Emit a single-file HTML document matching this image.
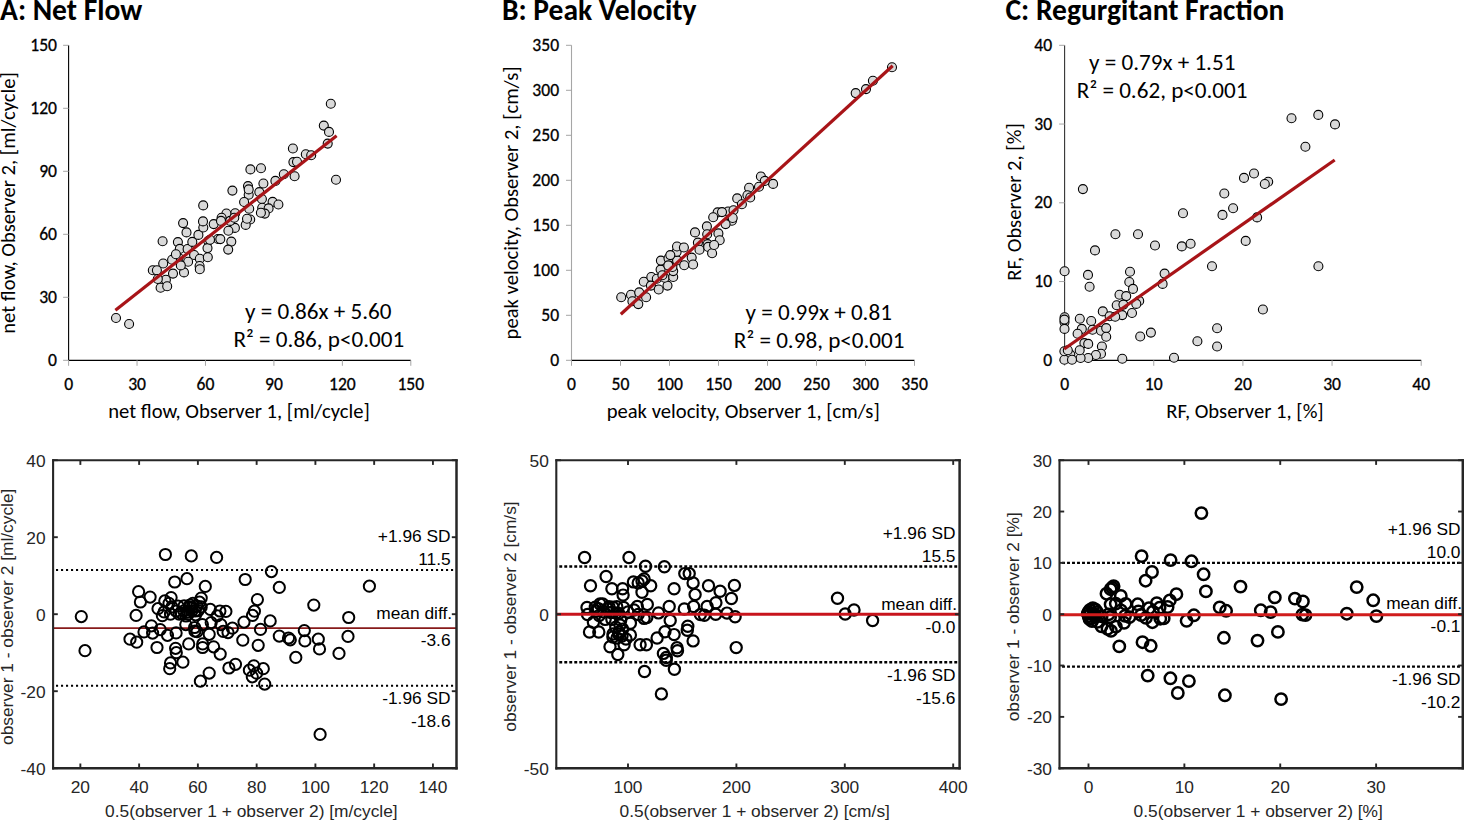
<!DOCTYPE html><html><head><meta charset="utf-8"><title>Inter-observer agreement</title>
<style>html,body{margin:0;padding:0;background:#fff;}svg{display:block;}.cal{font-family:"Carlito", "Liberation Sans", sans-serif;font-size-adjust:0.4775;} .cal text.tk{stroke:#000;stroke-width:0.3px;} .hel{font-family:"Liberation Sans", Arial, sans-serif;}</style></head><body>
<svg width="1464" height="821" viewBox="0 0 1464 821">
<rect width="1464" height="821" fill="#fff"/>
<g class="cal">
<text x="0" y="20" font-size="29.5" font-weight="bold" fill="#000" style="font-size-adjust:0.485" textLength="142.23" lengthAdjust="spacingAndGlyphs">A: Net Flow</text>
<line x1="68.6" y1="45.3" x2="68.6" y2="360.3" stroke="#000" stroke-width="1.1"/>
<line x1="68.6" y1="360.3" x2="410.8" y2="360.3" stroke="#000" stroke-width="1.2"/>
<line x1="68.6" y1="360.3" x2="68.6" y2="365.8" stroke="#a6a6a6" stroke-width="1"/>
<text x="68.6" y="389.8" class="tk" font-size="17.6" text-anchor="middle" fill="#000" textLength="8.92" lengthAdjust="spacingAndGlyphs">0</text>
<line x1="63.1" y1="360.3" x2="68.6" y2="360.3" stroke="#a6a6a6" stroke-width="1"/>
<text x="57" y="365.9" class="tk" font-size="17.6" text-anchor="end" fill="#000" textLength="8.92" lengthAdjust="spacingAndGlyphs">0</text>
<line x1="137.04" y1="360.3" x2="137.04" y2="365.8" stroke="#a6a6a6" stroke-width="1"/>
<text x="137.04" y="389.8" class="tk" font-size="17.6" text-anchor="middle" fill="#000" textLength="17.83" lengthAdjust="spacingAndGlyphs">30</text>
<line x1="63.1" y1="297.3" x2="68.6" y2="297.3" stroke="#a6a6a6" stroke-width="1"/>
<text x="57" y="302.9" class="tk" font-size="17.6" text-anchor="end" fill="#000" textLength="17.83" lengthAdjust="spacingAndGlyphs">30</text>
<line x1="205.48" y1="360.3" x2="205.48" y2="365.8" stroke="#a6a6a6" stroke-width="1"/>
<text x="205.48" y="389.8" class="tk" font-size="17.6" text-anchor="middle" fill="#000" textLength="17.83" lengthAdjust="spacingAndGlyphs">60</text>
<line x1="63.1" y1="234.3" x2="68.6" y2="234.3" stroke="#a6a6a6" stroke-width="1"/>
<text x="57" y="239.9" class="tk" font-size="17.6" text-anchor="end" fill="#000" textLength="17.83" lengthAdjust="spacingAndGlyphs">60</text>
<line x1="273.92" y1="360.3" x2="273.92" y2="365.8" stroke="#a6a6a6" stroke-width="1"/>
<text x="273.92" y="389.8" class="tk" font-size="17.6" text-anchor="middle" fill="#000" textLength="17.83" lengthAdjust="spacingAndGlyphs">90</text>
<line x1="63.1" y1="171.3" x2="68.6" y2="171.3" stroke="#a6a6a6" stroke-width="1"/>
<text x="57" y="176.9" class="tk" font-size="17.6" text-anchor="end" fill="#000" textLength="17.83" lengthAdjust="spacingAndGlyphs">90</text>
<line x1="342.36" y1="360.3" x2="342.36" y2="365.8" stroke="#a6a6a6" stroke-width="1"/>
<text x="342.36" y="389.8" class="tk" font-size="17.6" text-anchor="middle" fill="#000" textLength="26.73" lengthAdjust="spacingAndGlyphs">120</text>
<line x1="63.1" y1="108.3" x2="68.6" y2="108.3" stroke="#a6a6a6" stroke-width="1"/>
<text x="57" y="113.9" class="tk" font-size="17.6" text-anchor="end" fill="#000" textLength="26.73" lengthAdjust="spacingAndGlyphs">120</text>
<line x1="410.8" y1="360.3" x2="410.8" y2="365.8" stroke="#a6a6a6" stroke-width="1"/>
<text x="410.8" y="389.8" class="tk" font-size="17.6" text-anchor="middle" fill="#000" textLength="26.73" lengthAdjust="spacingAndGlyphs">150</text>
<line x1="63.1" y1="45.3" x2="68.6" y2="45.3" stroke="#a6a6a6" stroke-width="1"/>
<text x="57" y="50.9" class="tk" font-size="17.6" text-anchor="end" fill="#000" textLength="26.73" lengthAdjust="spacingAndGlyphs">150</text>
<text x="239" y="418.4" font-size="20.65" text-anchor="middle" fill="#000" textLength="261.61" lengthAdjust="spacingAndGlyphs">net flow, Observer 1, [ml/cycle]</text>
<text transform="translate(15 203) rotate(-90)" font-size="20.65" text-anchor="middle" fill="#000" textLength="261.61" lengthAdjust="spacingAndGlyphs">net flow, Observer 2, [ml/cycle]</text>
<circle cx="162.6" cy="241.2" r="4.5" fill="#d9d9d9" stroke="#000" stroke-width="1.1"/>
<circle cx="183.1" cy="223.1" r="4.5" fill="#d9d9d9" stroke="#000" stroke-width="1.1"/>
<circle cx="186.5" cy="232.4" r="4.5" fill="#d9d9d9" stroke="#000" stroke-width="1.1"/>
<circle cx="177.9" cy="242.1" r="4.5" fill="#d9d9d9" stroke="#000" stroke-width="1.1"/>
<circle cx="179.8" cy="248.9" r="4.5" fill="#d9d9d9" stroke="#000" stroke-width="1.1"/>
<circle cx="187.6" cy="249" r="4.5" fill="#d9d9d9" stroke="#000" stroke-width="1.1"/>
<circle cx="192.3" cy="241.9" r="4.5" fill="#d9d9d9" stroke="#000" stroke-width="1.1"/>
<circle cx="198.4" cy="234.9" r="4.5" fill="#d9d9d9" stroke="#000" stroke-width="1.1"/>
<circle cx="203.3" cy="227.5" r="4.5" fill="#d9d9d9" stroke="#000" stroke-width="1.1"/>
<circle cx="203" cy="221.4" r="4.5" fill="#d9d9d9" stroke="#000" stroke-width="1.1"/>
<circle cx="213.7" cy="224.1" r="4.5" fill="#d9d9d9" stroke="#000" stroke-width="1.1"/>
<circle cx="218" cy="239" r="4.5" fill="#d9d9d9" stroke="#000" stroke-width="1.1"/>
<circle cx="208.2" cy="241" r="4.5" fill="#d9d9d9" stroke="#000" stroke-width="1.1"/>
<circle cx="207.5" cy="248.1" r="4.5" fill="#d9d9d9" stroke="#000" stroke-width="1.1"/>
<circle cx="194.1" cy="255" r="4.5" fill="#d9d9d9" stroke="#000" stroke-width="1.1"/>
<circle cx="178.6" cy="257.8" r="4.5" fill="#d9d9d9" stroke="#000" stroke-width="1.1"/>
<circle cx="172.1" cy="259.8" r="4.5" fill="#d9d9d9" stroke="#000" stroke-width="1.1"/>
<circle cx="163.2" cy="263.5" r="4.5" fill="#d9d9d9" stroke="#000" stroke-width="1.1"/>
<circle cx="152.8" cy="270.2" r="4.5" fill="#d9d9d9" stroke="#000" stroke-width="1.1"/>
<circle cx="156.9" cy="270.2" r="4.5" fill="#d9d9d9" stroke="#000" stroke-width="1.1"/>
<circle cx="173" cy="273.6" r="4.5" fill="#d9d9d9" stroke="#000" stroke-width="1.1"/>
<circle cx="184" cy="272.4" r="4.5" fill="#d9d9d9" stroke="#000" stroke-width="1.1"/>
<circle cx="188.1" cy="261.8" r="4.5" fill="#d9d9d9" stroke="#000" stroke-width="1.1"/>
<circle cx="180.8" cy="265.4" r="4.5" fill="#d9d9d9" stroke="#000" stroke-width="1.1"/>
<circle cx="199.8" cy="258.8" r="4.5" fill="#d9d9d9" stroke="#000" stroke-width="1.1"/>
<circle cx="199.6" cy="266" r="4.5" fill="#d9d9d9" stroke="#000" stroke-width="1.1"/>
<circle cx="199.8" cy="269.2" r="4.5" fill="#d9d9d9" stroke="#000" stroke-width="1.1"/>
<circle cx="207.8" cy="257.3" r="4.5" fill="#d9d9d9" stroke="#000" stroke-width="1.1"/>
<circle cx="165.9" cy="279.7" r="4.5" fill="#d9d9d9" stroke="#000" stroke-width="1.1"/>
<circle cx="160.6" cy="287.8" r="4.5" fill="#d9d9d9" stroke="#000" stroke-width="1.1"/>
<circle cx="167.2" cy="286.3" r="4.5" fill="#d9d9d9" stroke="#000" stroke-width="1.1"/>
<circle cx="175.9" cy="254.3" r="4.5" fill="#d9d9d9" stroke="#000" stroke-width="1.1"/>
<circle cx="232.4" cy="190.6" r="4.5" fill="#d9d9d9" stroke="#000" stroke-width="1.1"/>
<circle cx="248" cy="186.1" r="4.5" fill="#d9d9d9" stroke="#000" stroke-width="1.1"/>
<circle cx="248.7" cy="194.8" r="4.5" fill="#d9d9d9" stroke="#000" stroke-width="1.1"/>
<circle cx="248.7" cy="189.4" r="4.5" fill="#d9d9d9" stroke="#000" stroke-width="1.1"/>
<circle cx="263.4" cy="183.5" r="4.5" fill="#d9d9d9" stroke="#000" stroke-width="1.1"/>
<circle cx="259.3" cy="192.1" r="4.5" fill="#d9d9d9" stroke="#000" stroke-width="1.1"/>
<circle cx="261.9" cy="199" r="4.5" fill="#d9d9d9" stroke="#000" stroke-width="1.1"/>
<circle cx="244.1" cy="202" r="4.5" fill="#d9d9d9" stroke="#000" stroke-width="1.1"/>
<circle cx="249.2" cy="208.8" r="4.5" fill="#d9d9d9" stroke="#000" stroke-width="1.1"/>
<circle cx="272.6" cy="201.9" r="4.5" fill="#d9d9d9" stroke="#000" stroke-width="1.1"/>
<circle cx="278.4" cy="204.5" r="4.5" fill="#d9d9d9" stroke="#000" stroke-width="1.1"/>
<circle cx="262.2" cy="207.7" r="4.5" fill="#d9d9d9" stroke="#000" stroke-width="1.1"/>
<circle cx="268.6" cy="208.4" r="4.5" fill="#d9d9d9" stroke="#000" stroke-width="1.1"/>
<circle cx="264.8" cy="213.6" r="4.5" fill="#d9d9d9" stroke="#000" stroke-width="1.1"/>
<circle cx="260.9" cy="212.7" r="4.5" fill="#d9d9d9" stroke="#000" stroke-width="1.1"/>
<circle cx="250.2" cy="219.5" r="4.5" fill="#d9d9d9" stroke="#000" stroke-width="1.1"/>
<circle cx="245.7" cy="224.9" r="4.5" fill="#d9d9d9" stroke="#000" stroke-width="1.1"/>
<circle cx="235.2" cy="213.2" r="4.5" fill="#d9d9d9" stroke="#000" stroke-width="1.1"/>
<circle cx="234.9" cy="227.9" r="4.5" fill="#d9d9d9" stroke="#000" stroke-width="1.1"/>
<circle cx="228.4" cy="230.8" r="4.5" fill="#d9d9d9" stroke="#000" stroke-width="1.1"/>
<circle cx="226.4" cy="213.5" r="4.5" fill="#d9d9d9" stroke="#000" stroke-width="1.1"/>
<circle cx="221.6" cy="217.7" r="4.5" fill="#d9d9d9" stroke="#000" stroke-width="1.1"/>
<circle cx="221" cy="220.9" r="4.5" fill="#d9d9d9" stroke="#000" stroke-width="1.1"/>
<circle cx="203.2" cy="205.4" r="4.5" fill="#d9d9d9" stroke="#000" stroke-width="1.1"/>
<circle cx="220.3" cy="239.1" r="4.5" fill="#d9d9d9" stroke="#000" stroke-width="1.1"/>
<circle cx="231.3" cy="241.6" r="4.5" fill="#d9d9d9" stroke="#000" stroke-width="1.1"/>
<circle cx="228.2" cy="249.6" r="4.5" fill="#d9d9d9" stroke="#000" stroke-width="1.1"/>
<circle cx="230.2" cy="220.9" r="4.5" fill="#d9d9d9" stroke="#000" stroke-width="1.1"/>
<circle cx="323.8" cy="125.6" r="4.5" fill="#d9d9d9" stroke="#000" stroke-width="1.1"/>
<circle cx="329" cy="131.9" r="4.5" fill="#d9d9d9" stroke="#000" stroke-width="1.1"/>
<circle cx="327.7" cy="143.6" r="4.5" fill="#d9d9d9" stroke="#000" stroke-width="1.1"/>
<circle cx="292.9" cy="148.5" r="4.5" fill="#d9d9d9" stroke="#000" stroke-width="1.1"/>
<circle cx="305.8" cy="154.3" r="4.5" fill="#d9d9d9" stroke="#000" stroke-width="1.1"/>
<circle cx="311.2" cy="155.3" r="4.5" fill="#d9d9d9" stroke="#000" stroke-width="1.1"/>
<circle cx="293.4" cy="162.1" r="4.5" fill="#d9d9d9" stroke="#000" stroke-width="1.1"/>
<circle cx="297" cy="161.7" r="4.5" fill="#d9d9d9" stroke="#000" stroke-width="1.1"/>
<circle cx="283.8" cy="174.2" r="4.5" fill="#d9d9d9" stroke="#000" stroke-width="1.1"/>
<circle cx="294.6" cy="176.3" r="4.5" fill="#d9d9d9" stroke="#000" stroke-width="1.1"/>
<circle cx="275.4" cy="180.9" r="4.5" fill="#d9d9d9" stroke="#000" stroke-width="1.1"/>
<circle cx="261" cy="168.2" r="4.5" fill="#d9d9d9" stroke="#000" stroke-width="1.1"/>
<circle cx="336" cy="179.7" r="4.5" fill="#d9d9d9" stroke="#000" stroke-width="1.1"/>
<circle cx="330.8" cy="103.8" r="4.5" fill="#d9d9d9" stroke="#000" stroke-width="1.1"/>
<circle cx="116" cy="318" r="4.5" fill="#d9d9d9" stroke="#000" stroke-width="1.1"/>
<circle cx="129.1" cy="324" r="4.5" fill="#d9d9d9" stroke="#000" stroke-width="1.1"/>
<circle cx="157.8" cy="279" r="4.5" fill="#d9d9d9" stroke="#000" stroke-width="1.1"/>
<circle cx="234.3" cy="217.8" r="4.5" fill="#d9d9d9" stroke="#000" stroke-width="1.1"/>
<circle cx="210" cy="239.7" r="4.5" fill="#d9d9d9" stroke="#000" stroke-width="1.1"/>
<circle cx="247" cy="218.8" r="4.5" fill="#d9d9d9" stroke="#000" stroke-width="1.1"/>
<circle cx="250.4" cy="169.4" r="4.5" fill="#d9d9d9" stroke="#000" stroke-width="1.1"/>
<line x1="115.4" y1="310.3" x2="336.6" y2="135.7" stroke="#a81418" stroke-width="3.2"/>
<text x="318.3" y="318.9" font-size="23.15" text-anchor="middle" fill="#000" textLength="146.44" lengthAdjust="spacingAndGlyphs">y = 0.86x + 5.60</text>
<text x="318.9" y="346.9" font-size="23.15" text-anchor="middle" fill="#000" textLength="170.69" lengthAdjust="spacingAndGlyphs">R² = 0.86, p&lt;0.001</text>
</g>
<g class="cal">
<text x="502" y="20" font-size="29.5" font-weight="bold" fill="#000" style="font-size-adjust:0.485" textLength="194.50" lengthAdjust="spacingAndGlyphs">B: Peak Velocity</text>
<line x1="571.5" y1="45.3" x2="571.5" y2="360.3" stroke="#a6a6a6" stroke-width="1.1"/>
<line x1="571.5" y1="360.3" x2="914.5" y2="360.3" stroke="#000" stroke-width="1.2"/>
<line x1="571.5" y1="360.3" x2="571.5" y2="365.8" stroke="#a6a6a6" stroke-width="1"/>
<text x="571.5" y="389.8" class="tk" font-size="17.6" text-anchor="middle" fill="#000" textLength="8.92" lengthAdjust="spacingAndGlyphs">0</text>
<line x1="566" y1="360.3" x2="571.5" y2="360.3" stroke="#a6a6a6" stroke-width="1"/>
<text x="559.1" y="365.9" class="tk" font-size="17.6" text-anchor="end" fill="#000" textLength="8.92" lengthAdjust="spacingAndGlyphs">0</text>
<line x1="620.5" y1="360.3" x2="620.5" y2="365.8" stroke="#a6a6a6" stroke-width="1"/>
<text x="620.5" y="389.8" class="tk" font-size="17.6" text-anchor="middle" fill="#000" textLength="17.83" lengthAdjust="spacingAndGlyphs">50</text>
<line x1="566" y1="315.3" x2="571.5" y2="315.3" stroke="#a6a6a6" stroke-width="1"/>
<text x="559.1" y="320.9" class="tk" font-size="17.6" text-anchor="end" fill="#000" textLength="17.83" lengthAdjust="spacingAndGlyphs">50</text>
<line x1="669.5" y1="360.3" x2="669.5" y2="365.8" stroke="#a6a6a6" stroke-width="1"/>
<text x="669.5" y="389.8" class="tk" font-size="17.6" text-anchor="middle" fill="#000" textLength="26.73" lengthAdjust="spacingAndGlyphs">100</text>
<line x1="566" y1="270.3" x2="571.5" y2="270.3" stroke="#a6a6a6" stroke-width="1"/>
<text x="559.1" y="275.9" class="tk" font-size="17.6" text-anchor="end" fill="#000" textLength="26.73" lengthAdjust="spacingAndGlyphs">100</text>
<line x1="718.5" y1="360.3" x2="718.5" y2="365.8" stroke="#a6a6a6" stroke-width="1"/>
<text x="718.5" y="389.8" class="tk" font-size="17.6" text-anchor="middle" fill="#000" textLength="26.73" lengthAdjust="spacingAndGlyphs">150</text>
<line x1="566" y1="225.3" x2="571.5" y2="225.3" stroke="#a6a6a6" stroke-width="1"/>
<text x="559.1" y="230.9" class="tk" font-size="17.6" text-anchor="end" fill="#000" textLength="26.73" lengthAdjust="spacingAndGlyphs">150</text>
<line x1="767.5" y1="360.3" x2="767.5" y2="365.8" stroke="#a6a6a6" stroke-width="1"/>
<text x="767.5" y="389.8" class="tk" font-size="17.6" text-anchor="middle" fill="#000" textLength="26.73" lengthAdjust="spacingAndGlyphs">200</text>
<line x1="566" y1="180.3" x2="571.5" y2="180.3" stroke="#a6a6a6" stroke-width="1"/>
<text x="559.1" y="185.9" class="tk" font-size="17.6" text-anchor="end" fill="#000" textLength="26.73" lengthAdjust="spacingAndGlyphs">200</text>
<line x1="816.5" y1="360.3" x2="816.5" y2="365.8" stroke="#a6a6a6" stroke-width="1"/>
<text x="816.5" y="389.8" class="tk" font-size="17.6" text-anchor="middle" fill="#000" textLength="26.73" lengthAdjust="spacingAndGlyphs">250</text>
<line x1="566" y1="135.3" x2="571.5" y2="135.3" stroke="#a6a6a6" stroke-width="1"/>
<text x="559.1" y="140.9" class="tk" font-size="17.6" text-anchor="end" fill="#000" textLength="26.73" lengthAdjust="spacingAndGlyphs">250</text>
<line x1="865.5" y1="360.3" x2="865.5" y2="365.8" stroke="#a6a6a6" stroke-width="1"/>
<text x="865.5" y="389.8" class="tk" font-size="17.6" text-anchor="middle" fill="#000" textLength="26.73" lengthAdjust="spacingAndGlyphs">300</text>
<line x1="566" y1="90.3" x2="571.5" y2="90.3" stroke="#a6a6a6" stroke-width="1"/>
<text x="559.1" y="95.9" class="tk" font-size="17.6" text-anchor="end" fill="#000" textLength="26.73" lengthAdjust="spacingAndGlyphs">300</text>
<line x1="914.5" y1="360.3" x2="914.5" y2="365.8" stroke="#a6a6a6" stroke-width="1"/>
<text x="914.5" y="389.8" class="tk" font-size="17.6" text-anchor="middle" fill="#000" textLength="26.73" lengthAdjust="spacingAndGlyphs">350</text>
<line x1="566" y1="45.3" x2="571.5" y2="45.3" stroke="#a6a6a6" stroke-width="1"/>
<text x="559.1" y="50.9" class="tk" font-size="17.6" text-anchor="end" fill="#000" textLength="26.73" lengthAdjust="spacingAndGlyphs">350</text>
<text x="743.2" y="418.4" font-size="20.65" text-anchor="middle" fill="#000" textLength="273.12" lengthAdjust="spacingAndGlyphs">peak velocity, Observer 1, [cm/s]</text>
<text transform="translate(517.5 202.9) rotate(-90)" font-size="20.65" text-anchor="middle" fill="#000" textLength="273.12" lengthAdjust="spacingAndGlyphs">peak velocity, Observer 2, [cm/s]</text>
<circle cx="621.2" cy="297.3" r="4.5" fill="#d9d9d9" stroke="#000" stroke-width="1.1"/>
<circle cx="631" cy="294.8" r="4.5" fill="#d9d9d9" stroke="#000" stroke-width="1.1"/>
<circle cx="632.4" cy="301.2" r="4.5" fill="#d9d9d9" stroke="#000" stroke-width="1.1"/>
<circle cx="638.3" cy="304.1" r="4.5" fill="#d9d9d9" stroke="#000" stroke-width="1.1"/>
<circle cx="639.2" cy="292.4" r="4.5" fill="#d9d9d9" stroke="#000" stroke-width="1.1"/>
<circle cx="646.1" cy="297.3" r="4.5" fill="#d9d9d9" stroke="#000" stroke-width="1.1"/>
<circle cx="643.8" cy="281.8" r="4.5" fill="#d9d9d9" stroke="#000" stroke-width="1.1"/>
<circle cx="651.3" cy="277" r="4.5" fill="#d9d9d9" stroke="#000" stroke-width="1.1"/>
<circle cx="656.8" cy="278.7" r="4.5" fill="#d9d9d9" stroke="#000" stroke-width="1.1"/>
<circle cx="650.9" cy="285.6" r="4.5" fill="#d9d9d9" stroke="#000" stroke-width="1.1"/>
<circle cx="658.7" cy="289.5" r="4.5" fill="#d9d9d9" stroke="#000" stroke-width="1.1"/>
<circle cx="667.5" cy="285.6" r="4.5" fill="#d9d9d9" stroke="#000" stroke-width="1.1"/>
<circle cx="664.6" cy="277.8" r="4.5" fill="#d9d9d9" stroke="#000" stroke-width="1.1"/>
<circle cx="673.2" cy="277" r="4.5" fill="#d9d9d9" stroke="#000" stroke-width="1.1"/>
<circle cx="660.6" cy="269.6" r="4.5" fill="#d9d9d9" stroke="#000" stroke-width="1.1"/>
<circle cx="660.9" cy="260.6" r="4.5" fill="#d9d9d9" stroke="#000" stroke-width="1.1"/>
<circle cx="668.5" cy="258.3" r="4.5" fill="#d9d9d9" stroke="#000" stroke-width="1.1"/>
<circle cx="673.2" cy="271.1" r="4.5" fill="#d9d9d9" stroke="#000" stroke-width="1.1"/>
<circle cx="672.4" cy="267" r="4.5" fill="#d9d9d9" stroke="#000" stroke-width="1.1"/>
<circle cx="677.1" cy="260.4" r="4.5" fill="#d9d9d9" stroke="#000" stroke-width="1.1"/>
<circle cx="676.6" cy="251.9" r="4.5" fill="#d9d9d9" stroke="#000" stroke-width="1.1"/>
<circle cx="677" cy="246.5" r="4.5" fill="#d9d9d9" stroke="#000" stroke-width="1.1"/>
<circle cx="683.9" cy="247.5" r="4.5" fill="#d9d9d9" stroke="#000" stroke-width="1.1"/>
<circle cx="684.2" cy="265.2" r="4.5" fill="#d9d9d9" stroke="#000" stroke-width="1.1"/>
<circle cx="670.3" cy="255.1" r="4.5" fill="#d9d9d9" stroke="#000" stroke-width="1.1"/>
<circle cx="749.1" cy="187.7" r="4.5" fill="#d9d9d9" stroke="#000" stroke-width="1.1"/>
<circle cx="747.4" cy="195.2" r="4.5" fill="#d9d9d9" stroke="#000" stroke-width="1.1"/>
<circle cx="737.2" cy="198.4" r="4.5" fill="#d9d9d9" stroke="#000" stroke-width="1.1"/>
<circle cx="717.6" cy="212.4" r="4.5" fill="#d9d9d9" stroke="#000" stroke-width="1.1"/>
<circle cx="728.1" cy="211.5" r="4.5" fill="#d9d9d9" stroke="#000" stroke-width="1.1"/>
<circle cx="733.5" cy="210.3" r="4.5" fill="#d9d9d9" stroke="#000" stroke-width="1.1"/>
<circle cx="713.2" cy="217.2" r="4.5" fill="#d9d9d9" stroke="#000" stroke-width="1.1"/>
<circle cx="731.9" cy="220.7" r="4.5" fill="#d9d9d9" stroke="#000" stroke-width="1.1"/>
<circle cx="725.6" cy="224.1" r="4.5" fill="#d9d9d9" stroke="#000" stroke-width="1.1"/>
<circle cx="706.9" cy="226.4" r="4.5" fill="#d9d9d9" stroke="#000" stroke-width="1.1"/>
<circle cx="695" cy="232.4" r="4.5" fill="#d9d9d9" stroke="#000" stroke-width="1.1"/>
<circle cx="707.2" cy="234.2" r="4.5" fill="#d9d9d9" stroke="#000" stroke-width="1.1"/>
<circle cx="718.4" cy="233.4" r="4.5" fill="#d9d9d9" stroke="#000" stroke-width="1.1"/>
<circle cx="719.7" cy="240.2" r="4.5" fill="#d9d9d9" stroke="#000" stroke-width="1.1"/>
<circle cx="697.9" cy="242.6" r="4.5" fill="#d9d9d9" stroke="#000" stroke-width="1.1"/>
<circle cx="707.6" cy="244.1" r="4.5" fill="#d9d9d9" stroke="#000" stroke-width="1.1"/>
<circle cx="760.9" cy="176.5" r="4.5" fill="#d9d9d9" stroke="#000" stroke-width="1.1"/>
<circle cx="773.1" cy="183.9" r="4.5" fill="#d9d9d9" stroke="#000" stroke-width="1.1"/>
<circle cx="764.8" cy="180.9" r="4.5" fill="#d9d9d9" stroke="#000" stroke-width="1.1"/>
<circle cx="759" cy="186.8" r="4.5" fill="#d9d9d9" stroke="#000" stroke-width="1.1"/>
<circle cx="750.2" cy="197.5" r="4.5" fill="#d9d9d9" stroke="#000" stroke-width="1.1"/>
<circle cx="741.9" cy="204.3" r="4.5" fill="#d9d9d9" stroke="#000" stroke-width="1.1"/>
<circle cx="722" cy="212.1" r="4.5" fill="#d9d9d9" stroke="#000" stroke-width="1.1"/>
<circle cx="732.7" cy="218" r="4.5" fill="#d9d9d9" stroke="#000" stroke-width="1.1"/>
<circle cx="892" cy="67.2" r="4.5" fill="#d9d9d9" stroke="#000" stroke-width="1.1"/>
<circle cx="872.9" cy="80.7" r="4.5" fill="#d9d9d9" stroke="#000" stroke-width="1.1"/>
<circle cx="866" cy="89.1" r="4.5" fill="#d9d9d9" stroke="#000" stroke-width="1.1"/>
<circle cx="855.7" cy="93.1" r="4.5" fill="#d9d9d9" stroke="#000" stroke-width="1.1"/>
<circle cx="699.5" cy="249.8" r="4.5" fill="#d9d9d9" stroke="#000" stroke-width="1.1"/>
<circle cx="708.2" cy="246.9" r="4.5" fill="#d9d9d9" stroke="#000" stroke-width="1.1"/>
<circle cx="712.1" cy="253.2" r="4.5" fill="#d9d9d9" stroke="#000" stroke-width="1.1"/>
<circle cx="714.1" cy="245" r="4.5" fill="#d9d9d9" stroke="#000" stroke-width="1.1"/>
<circle cx="691.7" cy="257.6" r="4.5" fill="#d9d9d9" stroke="#000" stroke-width="1.1"/>
<circle cx="693.1" cy="264.5" r="4.5" fill="#d9d9d9" stroke="#000" stroke-width="1.1"/>
<circle cx="668.3" cy="265.4" r="4.5" fill="#d9d9d9" stroke="#000" stroke-width="1.1"/>
<circle cx="662.4" cy="275.2" r="4.5" fill="#d9d9d9" stroke="#000" stroke-width="1.1"/>
<line x1="620.8" y1="314.2" x2="892.7" y2="65.7" stroke="#a81418" stroke-width="3.2"/>
<text x="818.7" y="320.3" font-size="23.15" text-anchor="middle" fill="#000" textLength="146.44" lengthAdjust="spacingAndGlyphs">y = 0.99x + 0.81</text>
<text x="819.2" y="348.3" font-size="23.15" text-anchor="middle" fill="#000" textLength="170.69" lengthAdjust="spacingAndGlyphs">R² = 0.98, p&lt;0.001</text>
</g>
<g class="cal">
<text x="1005.5" y="20" font-size="29.5" font-weight="bold" fill="#000" style="font-size-adjust:0.485" textLength="278.84" lengthAdjust="spacingAndGlyphs">C: Regurgitant Fraction</text>
<line x1="1064.6" y1="45.3" x2="1064.6" y2="360.3" stroke="#333" stroke-width="1.1"/>
<line x1="1064.6" y1="360.3" x2="1421.2" y2="360.3" stroke="#000" stroke-width="1.2"/>
<line x1="1064.6" y1="360.3" x2="1064.6" y2="365.8" stroke="#a6a6a6" stroke-width="1"/>
<text x="1064.6" y="389.8" class="tk" font-size="17.6" text-anchor="middle" fill="#000" textLength="8.92" lengthAdjust="spacingAndGlyphs">0</text>
<line x1="1059.1" y1="360.3" x2="1064.6" y2="360.3" stroke="#a6a6a6" stroke-width="1"/>
<text x="1052.2" y="365.9" class="tk" font-size="17.6" text-anchor="end" fill="#000" textLength="8.92" lengthAdjust="spacingAndGlyphs">0</text>
<line x1="1153.75" y1="360.3" x2="1153.75" y2="365.8" stroke="#a6a6a6" stroke-width="1"/>
<text x="1153.75" y="389.8" class="tk" font-size="17.6" text-anchor="middle" fill="#000" textLength="17.83" lengthAdjust="spacingAndGlyphs">10</text>
<line x1="1059.1" y1="281.55" x2="1064.6" y2="281.55" stroke="#a6a6a6" stroke-width="1"/>
<text x="1052.2" y="287.15" class="tk" font-size="17.6" text-anchor="end" fill="#000" textLength="17.83" lengthAdjust="spacingAndGlyphs">10</text>
<line x1="1242.9" y1="360.3" x2="1242.9" y2="365.8" stroke="#a6a6a6" stroke-width="1"/>
<text x="1242.9" y="389.8" class="tk" font-size="17.6" text-anchor="middle" fill="#000" textLength="17.83" lengthAdjust="spacingAndGlyphs">20</text>
<line x1="1059.1" y1="202.8" x2="1064.6" y2="202.8" stroke="#a6a6a6" stroke-width="1"/>
<text x="1052.2" y="208.4" class="tk" font-size="17.6" text-anchor="end" fill="#000" textLength="17.83" lengthAdjust="spacingAndGlyphs">20</text>
<line x1="1332.05" y1="360.3" x2="1332.05" y2="365.8" stroke="#a6a6a6" stroke-width="1"/>
<text x="1332.05" y="389.8" class="tk" font-size="17.6" text-anchor="middle" fill="#000" textLength="17.83" lengthAdjust="spacingAndGlyphs">30</text>
<line x1="1059.1" y1="124.05" x2="1064.6" y2="124.05" stroke="#a6a6a6" stroke-width="1"/>
<text x="1052.2" y="129.65" class="tk" font-size="17.6" text-anchor="end" fill="#000" textLength="17.83" lengthAdjust="spacingAndGlyphs">30</text>
<line x1="1421.2" y1="360.3" x2="1421.2" y2="365.8" stroke="#a6a6a6" stroke-width="1"/>
<text x="1421.2" y="389.8" class="tk" font-size="17.6" text-anchor="middle" fill="#000" textLength="17.83" lengthAdjust="spacingAndGlyphs">40</text>
<line x1="1059.1" y1="45.3" x2="1064.6" y2="45.3" stroke="#a6a6a6" stroke-width="1"/>
<text x="1052.2" y="50.9" class="tk" font-size="17.6" text-anchor="end" fill="#000" textLength="17.83" lengthAdjust="spacingAndGlyphs">40</text>
<text x="1245" y="418.4" font-size="20.65" text-anchor="middle" fill="#000" textLength="157.42" lengthAdjust="spacingAndGlyphs">RF, Observer 1, [%]</text>
<text transform="translate(1021 202) rotate(-90)" font-size="20.65" text-anchor="middle" fill="#000" textLength="157.42" lengthAdjust="spacingAndGlyphs">RF, Observer 2, [%]</text>
<circle cx="1095" cy="250.4" r="4.5" fill="#d9d9d9" stroke="#000" stroke-width="1.1"/>
<circle cx="1064.6" cy="271.2" r="4.5" fill="#d9d9d9" stroke="#000" stroke-width="1.1"/>
<circle cx="1088" cy="274.9" r="4.5" fill="#d9d9d9" stroke="#000" stroke-width="1.1"/>
<circle cx="1089.6" cy="286.8" r="4.5" fill="#d9d9d9" stroke="#000" stroke-width="1.1"/>
<circle cx="1130" cy="271.8" r="4.5" fill="#d9d9d9" stroke="#000" stroke-width="1.1"/>
<circle cx="1129.3" cy="282" r="4.5" fill="#d9d9d9" stroke="#000" stroke-width="1.1"/>
<circle cx="1133" cy="288.9" r="4.5" fill="#d9d9d9" stroke="#000" stroke-width="1.1"/>
<circle cx="1119.5" cy="294.7" r="4.5" fill="#d9d9d9" stroke="#000" stroke-width="1.1"/>
<circle cx="1126.2" cy="296.1" r="4.5" fill="#d9d9d9" stroke="#000" stroke-width="1.1"/>
<circle cx="1116.7" cy="305.3" r="4.5" fill="#d9d9d9" stroke="#000" stroke-width="1.1"/>
<circle cx="1123.4" cy="304.6" r="4.5" fill="#d9d9d9" stroke="#000" stroke-width="1.1"/>
<circle cx="1102.8" cy="311.4" r="4.5" fill="#d9d9d9" stroke="#000" stroke-width="1.1"/>
<circle cx="1109.6" cy="316.3" r="4.5" fill="#d9d9d9" stroke="#000" stroke-width="1.1"/>
<circle cx="1122.2" cy="315.1" r="4.5" fill="#d9d9d9" stroke="#000" stroke-width="1.1"/>
<circle cx="1132" cy="313" r="4.5" fill="#d9d9d9" stroke="#000" stroke-width="1.1"/>
<circle cx="1079.8" cy="318.8" r="4.5" fill="#d9d9d9" stroke="#000" stroke-width="1.1"/>
<circle cx="1091.2" cy="321" r="4.5" fill="#d9d9d9" stroke="#000" stroke-width="1.1"/>
<circle cx="1064.6" cy="317.3" r="4.5" fill="#d9d9d9" stroke="#000" stroke-width="1.1"/>
<circle cx="1064.5" cy="322.1" r="4.5" fill="#d9d9d9" stroke="#000" stroke-width="1.1"/>
<circle cx="1064.5" cy="328.9" r="4.5" fill="#d9d9d9" stroke="#000" stroke-width="1.1"/>
<circle cx="1081.8" cy="328.9" r="4.5" fill="#d9d9d9" stroke="#000" stroke-width="1.1"/>
<circle cx="1064.4" cy="319.6" r="4.5" fill="#d9d9d9" stroke="#000" stroke-width="1.1"/>
<circle cx="1115.2" cy="316.8" r="4.5" fill="#d9d9d9" stroke="#000" stroke-width="1.1"/>
<circle cx="1077.6" cy="333.7" r="4.5" fill="#d9d9d9" stroke="#000" stroke-width="1.1"/>
<circle cx="1092.5" cy="329.8" r="4.5" fill="#d9d9d9" stroke="#000" stroke-width="1.1"/>
<circle cx="1101" cy="330.7" r="4.5" fill="#d9d9d9" stroke="#000" stroke-width="1.1"/>
<circle cx="1106.2" cy="328.1" r="4.5" fill="#d9d9d9" stroke="#000" stroke-width="1.1"/>
<circle cx="1106.2" cy="336.7" r="4.5" fill="#d9d9d9" stroke="#000" stroke-width="1.1"/>
<circle cx="1084.4" cy="343.1" r="4.5" fill="#d9d9d9" stroke="#000" stroke-width="1.1"/>
<circle cx="1088.2" cy="343.9" r="4.5" fill="#d9d9d9" stroke="#000" stroke-width="1.1"/>
<circle cx="1101.9" cy="346.5" r="4.5" fill="#d9d9d9" stroke="#000" stroke-width="1.1"/>
<circle cx="1101" cy="353.7" r="4.5" fill="#d9d9d9" stroke="#000" stroke-width="1.1"/>
<circle cx="1095.9" cy="355" r="4.5" fill="#d9d9d9" stroke="#000" stroke-width="1.1"/>
<circle cx="1088.2" cy="358" r="4.5" fill="#d9d9d9" stroke="#000" stroke-width="1.1"/>
<circle cx="1080.6" cy="358" r="4.5" fill="#d9d9d9" stroke="#000" stroke-width="1.1"/>
<circle cx="1079.7" cy="350.3" r="4.5" fill="#d9d9d9" stroke="#000" stroke-width="1.1"/>
<circle cx="1070.3" cy="354.6" r="4.5" fill="#d9d9d9" stroke="#000" stroke-width="1.1"/>
<circle cx="1064.4" cy="359.7" r="4.5" fill="#d9d9d9" stroke="#000" stroke-width="1.1"/>
<circle cx="1064.4" cy="351.2" r="4.5" fill="#d9d9d9" stroke="#000" stroke-width="1.1"/>
<circle cx="1072" cy="359.7" r="4.5" fill="#d9d9d9" stroke="#000" stroke-width="1.1"/>
<circle cx="1067.8" cy="350.3" r="4.5" fill="#d9d9d9" stroke="#000" stroke-width="1.1"/>
<circle cx="1122.3" cy="358.8" r="4.5" fill="#d9d9d9" stroke="#000" stroke-width="1.1"/>
<circle cx="1139.2" cy="300.9" r="4.5" fill="#d9d9d9" stroke="#000" stroke-width="1.1"/>
<circle cx="1136.3" cy="303.9" r="4.5" fill="#d9d9d9" stroke="#000" stroke-width="1.1"/>
<circle cx="1164.6" cy="273.6" r="4.5" fill="#d9d9d9" stroke="#000" stroke-width="1.1"/>
<circle cx="1162.6" cy="283.9" r="4.5" fill="#d9d9d9" stroke="#000" stroke-width="1.1"/>
<circle cx="1150.9" cy="332.6" r="4.5" fill="#d9d9d9" stroke="#000" stroke-width="1.1"/>
<circle cx="1140.2" cy="336.5" r="4.5" fill="#d9d9d9" stroke="#000" stroke-width="1.1"/>
<circle cx="1082.9" cy="189.1" r="4.5" fill="#d9d9d9" stroke="#000" stroke-width="1.1"/>
<circle cx="1115.4" cy="234.2" r="4.5" fill="#d9d9d9" stroke="#000" stroke-width="1.1"/>
<circle cx="1138" cy="234.2" r="4.5" fill="#d9d9d9" stroke="#000" stroke-width="1.1"/>
<circle cx="1155" cy="245.5" r="4.5" fill="#d9d9d9" stroke="#000" stroke-width="1.1"/>
<circle cx="1291.5" cy="118.3" r="4.5" fill="#d9d9d9" stroke="#000" stroke-width="1.1"/>
<circle cx="1318.3" cy="114.9" r="4.5" fill="#d9d9d9" stroke="#000" stroke-width="1.1"/>
<circle cx="1335" cy="124.4" r="4.5" fill="#d9d9d9" stroke="#000" stroke-width="1.1"/>
<circle cx="1305.4" cy="146.8" r="4.5" fill="#d9d9d9" stroke="#000" stroke-width="1.1"/>
<circle cx="1254" cy="173.5" r="4.5" fill="#d9d9d9" stroke="#000" stroke-width="1.1"/>
<circle cx="1244" cy="177.9" r="4.5" fill="#d9d9d9" stroke="#000" stroke-width="1.1"/>
<circle cx="1268.2" cy="181.8" r="4.5" fill="#d9d9d9" stroke="#000" stroke-width="1.1"/>
<circle cx="1264.8" cy="184" r="4.5" fill="#d9d9d9" stroke="#000" stroke-width="1.1"/>
<circle cx="1224.3" cy="193.5" r="4.5" fill="#d9d9d9" stroke="#000" stroke-width="1.1"/>
<circle cx="1233.1" cy="208.2" r="4.5" fill="#d9d9d9" stroke="#000" stroke-width="1.1"/>
<circle cx="1183" cy="213.3" r="4.5" fill="#d9d9d9" stroke="#000" stroke-width="1.1"/>
<circle cx="1222.5" cy="214.9" r="4.5" fill="#d9d9d9" stroke="#000" stroke-width="1.1"/>
<circle cx="1257.1" cy="217.4" r="4.5" fill="#d9d9d9" stroke="#000" stroke-width="1.1"/>
<circle cx="1245.7" cy="240.9" r="4.5" fill="#d9d9d9" stroke="#000" stroke-width="1.1"/>
<circle cx="1181.8" cy="246.4" r="4.5" fill="#d9d9d9" stroke="#000" stroke-width="1.1"/>
<circle cx="1190.6" cy="243.8" r="4.5" fill="#d9d9d9" stroke="#000" stroke-width="1.1"/>
<circle cx="1212" cy="266.3" r="4.5" fill="#d9d9d9" stroke="#000" stroke-width="1.1"/>
<circle cx="1318.4" cy="266.3" r="4.5" fill="#d9d9d9" stroke="#000" stroke-width="1.1"/>
<circle cx="1262.9" cy="309.5" r="4.5" fill="#d9d9d9" stroke="#000" stroke-width="1.1"/>
<circle cx="1217.1" cy="328.2" r="4.5" fill="#d9d9d9" stroke="#000" stroke-width="1.1"/>
<circle cx="1197.4" cy="341.3" r="4.5" fill="#d9d9d9" stroke="#000" stroke-width="1.1"/>
<circle cx="1217.1" cy="346.5" r="4.5" fill="#d9d9d9" stroke="#000" stroke-width="1.1"/>
<circle cx="1174" cy="357.8" r="4.5" fill="#d9d9d9" stroke="#000" stroke-width="1.1"/>
<line x1="1064.2" y1="349" x2="1334.7" y2="160" stroke="#a81418" stroke-width="3.2"/>
<text x="1162.2" y="70.3" font-size="23.15" text-anchor="middle" fill="#000" textLength="146.44" lengthAdjust="spacingAndGlyphs">y = 0.79x + 1.51</text>
<text x="1162.2" y="98.3" font-size="23.15" text-anchor="middle" fill="#000" textLength="170.69" lengthAdjust="spacingAndGlyphs">R² = 0.62, p&lt;0.001</text>
</g>
<g class="hel">
<line x1="53.1" y1="569.93" x2="456.5" y2="569.93" stroke="#000" stroke-width="2.1" stroke-dasharray="2.1 2.9" stroke-dashoffset="2.1"/>
<line x1="53.1" y1="685.81" x2="456.5" y2="685.81" stroke="#000" stroke-width="2.1" stroke-dasharray="2.1 2.9" stroke-dashoffset="2.1"/>
<line x1="53.1" y1="628.06" x2="456.5" y2="628.06" stroke="#871a1a" stroke-width="1.8"/>
<circle cx="165.4" cy="554.5" r="5.6" fill="none" stroke="#000" stroke-width="2.0"/>
<circle cx="191.3" cy="555.9" r="5.6" fill="none" stroke="#000" stroke-width="2.0"/>
<circle cx="187" cy="578.7" r="5.6" fill="none" stroke="#000" stroke-width="2.0"/>
<circle cx="174.7" cy="582" r="5.6" fill="none" stroke="#000" stroke-width="2.0"/>
<circle cx="171.1" cy="597.6" r="5.6" fill="none" stroke="#000" stroke-width="2.0"/>
<circle cx="176.1" cy="611" r="5.6" fill="none" stroke="#000" stroke-width="2.0"/>
<circle cx="184.1" cy="605.9" r="5.6" fill="none" stroke="#000" stroke-width="2.0"/>
<circle cx="192.9" cy="603.4" r="5.6" fill="none" stroke="#000" stroke-width="2.0"/>
<circle cx="201.2" cy="598.1" r="5.6" fill="none" stroke="#000" stroke-width="2.0"/>
<circle cx="205.3" cy="586.4" r="5.6" fill="none" stroke="#000" stroke-width="2.0"/>
<circle cx="210.3" cy="609.4" r="5.6" fill="none" stroke="#000" stroke-width="2.0"/>
<circle cx="202.7" cy="643.9" r="5.6" fill="none" stroke="#000" stroke-width="2.0"/>
<circle cx="194.9" cy="631.1" r="5.6" fill="none" stroke="#000" stroke-width="2.0"/>
<circle cx="188.7" cy="643.9" r="5.6" fill="none" stroke="#000" stroke-width="2.0"/>
<circle cx="176.1" cy="632.9" r="5.6" fill="none" stroke="#000" stroke-width="2.0"/>
<circle cx="164.1" cy="611.9" r="5.6" fill="none" stroke="#000" stroke-width="2.0"/>
<circle cx="158" cy="608.7" r="5.6" fill="none" stroke="#000" stroke-width="2.0"/>
<circle cx="150.1" cy="597.1" r="5.6" fill="none" stroke="#000" stroke-width="2.0"/>
<circle cx="138.6" cy="591.7" r="5.6" fill="none" stroke="#000" stroke-width="2.0"/>
<circle cx="140.4" cy="602" r="5.6" fill="none" stroke="#000" stroke-width="2.0"/>
<circle cx="152.6" cy="633.1" r="5.6" fill="none" stroke="#000" stroke-width="2.0"/>
<circle cx="157" cy="647.5" r="5.6" fill="none" stroke="#000" stroke-width="2.0"/>
<circle cx="167.5" cy="635.3" r="5.6" fill="none" stroke="#000" stroke-width="2.0"/>
<circle cx="160.2" cy="629.6" r="5.6" fill="none" stroke="#000" stroke-width="2.0"/>
<circle cx="175.6" cy="648.3" r="5.6" fill="none" stroke="#000" stroke-width="2.0"/>
<circle cx="170.5" cy="662.9" r="5.6" fill="none" stroke="#000" stroke-width="2.0"/>
<circle cx="169.7" cy="668.7" r="5.6" fill="none" stroke="#000" stroke-width="2.0"/>
<circle cx="182.9" cy="662.2" r="5.6" fill="none" stroke="#000" stroke-width="2.0"/>
<circle cx="144" cy="631.9" r="5.6" fill="none" stroke="#000" stroke-width="2.0"/>
<circle cx="130" cy="639.2" r="5.6" fill="none" stroke="#000" stroke-width="2.0"/>
<circle cx="136.7" cy="642.2" r="5.6" fill="none" stroke="#000" stroke-width="2.0"/>
<circle cx="164.8" cy="600.9" r="5.6" fill="none" stroke="#000" stroke-width="2.0"/>
<circle cx="245.2" cy="579.5" r="5.6" fill="none" stroke="#000" stroke-width="2.0"/>
<circle cx="257.4" cy="599.6" r="5.6" fill="none" stroke="#000" stroke-width="2.0"/>
<circle cx="252.5" cy="615.4" r="5.6" fill="none" stroke="#000" stroke-width="2.0"/>
<circle cx="270.2" cy="620.9" r="5.6" fill="none" stroke="#000" stroke-width="2.0"/>
<circle cx="260.5" cy="629.4" r="5.6" fill="none" stroke="#000" stroke-width="2.0"/>
<circle cx="258.2" cy="645.3" r="5.6" fill="none" stroke="#000" stroke-width="2.0"/>
<circle cx="244" cy="622.1" r="5.6" fill="none" stroke="#000" stroke-width="2.0"/>
<circle cx="242.8" cy="640.2" r="5.6" fill="none" stroke="#000" stroke-width="2.0"/>
<circle cx="263.3" cy="668.7" r="5.6" fill="none" stroke="#000" stroke-width="2.0"/>
<circle cx="264.7" cy="684.1" r="5.6" fill="none" stroke="#000" stroke-width="2.0"/>
<circle cx="253.8" cy="665.8" r="5.6" fill="none" stroke="#000" stroke-width="2.0"/>
<circle cx="256.6" cy="673.2" r="5.6" fill="none" stroke="#000" stroke-width="2.0"/>
<circle cx="252.3" cy="676.8" r="5.6" fill="none" stroke="#000" stroke-width="2.0"/>
<circle cx="249.4" cy="670.2" r="5.6" fill="none" stroke="#000" stroke-width="2.0"/>
<circle cx="235.5" cy="664.3" r="5.6" fill="none" stroke="#000" stroke-width="2.0"/>
<circle cx="228.9" cy="668" r="5.6" fill="none" stroke="#000" stroke-width="2.0"/>
<circle cx="232.4" cy="628.2" r="5.6" fill="none" stroke="#000" stroke-width="2.0"/>
<circle cx="220.2" cy="654.1" r="5.6" fill="none" stroke="#000" stroke-width="2.0"/>
<circle cx="213.6" cy="646.8" r="5.6" fill="none" stroke="#000" stroke-width="2.0"/>
<circle cx="225.9" cy="611.4" r="5.6" fill="none" stroke="#000" stroke-width="2.0"/>
<circle cx="219.9" cy="611" r="5.6" fill="none" stroke="#000" stroke-width="2.0"/>
<circle cx="217.2" cy="615.8" r="5.6" fill="none" stroke="#000" stroke-width="2.0"/>
<circle cx="216.6" cy="557.4" r="5.6" fill="none" stroke="#000" stroke-width="2.0"/>
<circle cx="202.6" cy="647.5" r="5.6" fill="none" stroke="#000" stroke-width="2.0"/>
<circle cx="209.2" cy="673.1" r="5.6" fill="none" stroke="#000" stroke-width="2.0"/>
<circle cx="200.4" cy="681.2" r="5.6" fill="none" stroke="#000" stroke-width="2.0"/>
<circle cx="223.2" cy="631.4" r="5.6" fill="none" stroke="#000" stroke-width="2.0"/>
<circle cx="348.7" cy="617.5" r="5.6" fill="none" stroke="#000" stroke-width="2.0"/>
<circle cx="348" cy="636.4" r="5.6" fill="none" stroke="#000" stroke-width="2.0"/>
<circle cx="339" cy="653.4" r="5.6" fill="none" stroke="#000" stroke-width="2.0"/>
<circle cx="313.8" cy="605.1" r="5.6" fill="none" stroke="#000" stroke-width="2.0"/>
<circle cx="318.3" cy="639.2" r="5.6" fill="none" stroke="#000" stroke-width="2.0"/>
<circle cx="319.5" cy="648.9" r="5.6" fill="none" stroke="#000" stroke-width="2.0"/>
<circle cx="304.3" cy="630.6" r="5.6" fill="none" stroke="#000" stroke-width="2.0"/>
<circle cx="304.9" cy="640.9" r="5.6" fill="none" stroke="#000" stroke-width="2.0"/>
<circle cx="288.5" cy="638" r="5.6" fill="none" stroke="#000" stroke-width="2.0"/>
<circle cx="295.8" cy="657.4" r="5.6" fill="none" stroke="#000" stroke-width="2.0"/>
<circle cx="279.3" cy="636.1" r="5.6" fill="none" stroke="#000" stroke-width="2.0"/>
<circle cx="279.3" cy="587.4" r="5.6" fill="none" stroke="#000" stroke-width="2.0"/>
<circle cx="320.1" cy="734.4" r="5.6" fill="none" stroke="#000" stroke-width="2.0"/>
<circle cx="369.4" cy="586.2" r="5.6" fill="none" stroke="#000" stroke-width="2.0"/>
<circle cx="81.3" cy="616.6" r="5.6" fill="none" stroke="#000" stroke-width="2.0"/>
<circle cx="85" cy="650.7" r="5.6" fill="none" stroke="#000" stroke-width="2.0"/>
<circle cx="136.1" cy="615.4" r="5.6" fill="none" stroke="#000" stroke-width="2.0"/>
<circle cx="228" cy="632.6" r="5.6" fill="none" stroke="#000" stroke-width="2.0"/>
<circle cx="197" cy="631.7" r="5.6" fill="none" stroke="#000" stroke-width="2.0"/>
<circle cx="271.4" cy="571.6" r="5.6" fill="none" stroke="#000" stroke-width="2.0"/>
<circle cx="254.4" cy="611.2" r="5.6" fill="none" stroke="#000" stroke-width="2.0"/>
<circle cx="209.2" cy="634.3" r="5.6" fill="none" stroke="#000" stroke-width="2.0"/>
<circle cx="199.5" cy="602.2" r="5.6" fill="none" stroke="#000" stroke-width="2.0"/>
<circle cx="191.7" cy="610.9" r="5.6" fill="none" stroke="#000" stroke-width="2.0"/>
<circle cx="195.6" cy="614.8" r="5.6" fill="none" stroke="#000" stroke-width="2.0"/>
<circle cx="189.7" cy="607" r="5.6" fill="none" stroke="#000" stroke-width="2.0"/>
<circle cx="183.9" cy="610.9" r="5.6" fill="none" stroke="#000" stroke-width="2.0"/>
<circle cx="185.8" cy="624.6" r="5.6" fill="none" stroke="#000" stroke-width="2.0"/>
<circle cx="194.6" cy="627.5" r="5.6" fill="none" stroke="#000" stroke-width="2.0"/>
<circle cx="202.4" cy="624.6" r="5.6" fill="none" stroke="#000" stroke-width="2.0"/>
<circle cx="211.2" cy="622.6" r="5.6" fill="none" stroke="#000" stroke-width="2.0"/>
<circle cx="220.9" cy="624.6" r="5.6" fill="none" stroke="#000" stroke-width="2.0"/>
<circle cx="162.4" cy="615.7" r="5.6" fill="none" stroke="#000" stroke-width="2.0"/>
<circle cx="169" cy="603.3" r="5.6" fill="none" stroke="#000" stroke-width="2.0"/>
<circle cx="171.9" cy="606.9" r="5.6" fill="none" stroke="#000" stroke-width="2.0"/>
<circle cx="170.5" cy="614.2" r="5.6" fill="none" stroke="#000" stroke-width="2.0"/>
<circle cx="179.2" cy="614.2" r="5.6" fill="none" stroke="#000" stroke-width="2.0"/>
<circle cx="198.2" cy="610.6" r="5.6" fill="none" stroke="#000" stroke-width="2.0"/>
<circle cx="201.2" cy="606.9" r="5.6" fill="none" stroke="#000" stroke-width="2.0"/>
<circle cx="188" cy="614.2" r="5.6" fill="none" stroke="#000" stroke-width="2.0"/>
<circle cx="188" cy="612" r="5.6" fill="none" stroke="#000" stroke-width="2.0"/>
<circle cx="192" cy="608" r="5.6" fill="none" stroke="#000" stroke-width="2.0"/>
<circle cx="186" cy="616" r="5.6" fill="none" stroke="#000" stroke-width="2.0"/>
<circle cx="190" cy="605" r="5.6" fill="none" stroke="#000" stroke-width="2.0"/>
<circle cx="195" cy="611" r="5.6" fill="none" stroke="#000" stroke-width="2.0"/>
<circle cx="181" cy="613" r="5.6" fill="none" stroke="#000" stroke-width="2.0"/>
<circle cx="197" cy="606" r="5.6" fill="none" stroke="#000" stroke-width="2.0"/>
<circle cx="178" cy="606" r="5.6" fill="none" stroke="#000" stroke-width="2.0"/>
<circle cx="290.3" cy="639.8" r="5.6" fill="none" stroke="#000" stroke-width="2.0"/>
<circle cx="151.4" cy="625.8" r="5.6" fill="none" stroke="#000" stroke-width="2.0"/>
<circle cx="176.3" cy="652.7" r="5.6" fill="none" stroke="#000" stroke-width="2.0"/>
<line x1="52.1" y1="460.2" x2="457.7" y2="460.2" stroke="#262626" stroke-width="1.9"/>
<line x1="53.1" y1="459.3" x2="53.1" y2="769.4" stroke="#262626" stroke-width="2.1"/>
<line x1="456.5" y1="459.3" x2="456.5" y2="769.4" stroke="#262626" stroke-width="2.5"/>
<line x1="52.1" y1="768.2" x2="457.7" y2="768.2" stroke="#262626" stroke-width="2.5"/>
<line x1="80.36" y1="768.2" x2="80.36" y2="763.5" stroke="#262626" stroke-width="1.9"/>
<line x1="80.36" y1="460.2" x2="80.36" y2="464.9" stroke="#262626" stroke-width="1.9"/>
<text x="80.36" y="792.5" font-size="17.35" text-anchor="middle" fill="#262626">20</text>
<line x1="139.12" y1="768.2" x2="139.12" y2="763.5" stroke="#262626" stroke-width="1.9"/>
<line x1="139.12" y1="460.2" x2="139.12" y2="464.9" stroke="#262626" stroke-width="1.9"/>
<text x="139.12" y="792.5" font-size="17.35" text-anchor="middle" fill="#262626">40</text>
<line x1="197.88" y1="768.2" x2="197.88" y2="763.5" stroke="#262626" stroke-width="1.9"/>
<line x1="197.88" y1="460.2" x2="197.88" y2="464.9" stroke="#262626" stroke-width="1.9"/>
<text x="197.88" y="792.5" font-size="17.35" text-anchor="middle" fill="#262626">60</text>
<line x1="256.64" y1="768.2" x2="256.64" y2="763.5" stroke="#262626" stroke-width="1.9"/>
<line x1="256.64" y1="460.2" x2="256.64" y2="464.9" stroke="#262626" stroke-width="1.9"/>
<text x="256.64" y="792.5" font-size="17.35" text-anchor="middle" fill="#262626">80</text>
<line x1="315.4" y1="768.2" x2="315.4" y2="763.5" stroke="#262626" stroke-width="1.9"/>
<line x1="315.4" y1="460.2" x2="315.4" y2="464.9" stroke="#262626" stroke-width="1.9"/>
<text x="315.4" y="792.5" font-size="17.35" text-anchor="middle" fill="#262626">100</text>
<line x1="374.16" y1="768.2" x2="374.16" y2="763.5" stroke="#262626" stroke-width="1.9"/>
<line x1="374.16" y1="460.2" x2="374.16" y2="464.9" stroke="#262626" stroke-width="1.9"/>
<text x="374.16" y="792.5" font-size="17.35" text-anchor="middle" fill="#262626">120</text>
<line x1="432.92" y1="768.2" x2="432.92" y2="763.5" stroke="#262626" stroke-width="1.9"/>
<line x1="432.92" y1="460.2" x2="432.92" y2="464.9" stroke="#262626" stroke-width="1.9"/>
<text x="432.92" y="792.5" font-size="17.35" text-anchor="middle" fill="#262626">140</text>
<line x1="53.1" y1="460.2" x2="57.8" y2="460.2" stroke="#262626" stroke-width="1.9"/>
<line x1="456.5" y1="460.2" x2="451.8" y2="460.2" stroke="#262626" stroke-width="1.9"/>
<text x="45.6" y="466.7" font-size="17.35" text-anchor="end" fill="#262626">40</text>
<line x1="53.1" y1="537.2" x2="57.8" y2="537.2" stroke="#262626" stroke-width="1.9"/>
<line x1="456.5" y1="537.2" x2="451.8" y2="537.2" stroke="#262626" stroke-width="1.9"/>
<text x="45.6" y="543.7" font-size="17.35" text-anchor="end" fill="#262626">20</text>
<line x1="53.1" y1="614.2" x2="57.8" y2="614.2" stroke="#262626" stroke-width="1.9"/>
<line x1="456.5" y1="614.2" x2="451.8" y2="614.2" stroke="#262626" stroke-width="1.9"/>
<text x="45.6" y="620.7" font-size="17.35" text-anchor="end" fill="#262626">0</text>
<line x1="53.1" y1="691.2" x2="57.8" y2="691.2" stroke="#262626" stroke-width="1.9"/>
<line x1="456.5" y1="691.2" x2="451.8" y2="691.2" stroke="#262626" stroke-width="1.9"/>
<text x="45.6" y="697.7" font-size="17.35" text-anchor="end" fill="#262626">-20</text>
<line x1="53.1" y1="768.2" x2="57.8" y2="768.2" stroke="#262626" stroke-width="1.9"/>
<line x1="456.5" y1="768.2" x2="451.8" y2="768.2" stroke="#262626" stroke-width="1.9"/>
<text x="45.6" y="774.7" font-size="17.35" text-anchor="end" fill="#262626">-40</text>
<text x="251.4" y="817.1" font-size="17.35" text-anchor="middle" fill="#262626">0.5(observer 1 + observer 2) [m/cycle]</text>
<text transform="translate(12.8 616.8) rotate(-90)" font-size="17.35" text-anchor="middle" fill="#262626">observer 1 - observer 2 [ml/cycle]</text>
<text x="450.6" y="541.8" font-size="17.35" text-anchor="end" fill="#000">+1.96 SD</text>
<text x="450.6" y="564.8" font-size="17.35" text-anchor="end" fill="#000">11.5</text>
<text x="452.1" y="619" font-size="17.35" text-anchor="end" fill="#000">mean diff.</text>
<text x="450.6" y="646" font-size="17.35" text-anchor="end" fill="#000">-3.6</text>
<text x="450.6" y="703.5" font-size="17.35" text-anchor="end" fill="#000">-1.96 SD</text>
<text x="450.6" y="727.4" font-size="17.35" text-anchor="end" fill="#000">-18.6</text>
</g>
<g class="hel">
<line x1="556.3" y1="566.46" x2="959.6" y2="566.46" stroke="#000" stroke-width="2.5" stroke-dasharray="2.9 2.1" stroke-dashoffset="2.0"/>
<line x1="556.3" y1="662.25" x2="959.6" y2="662.25" stroke="#000" stroke-width="2.5" stroke-dasharray="2.9 2.1" stroke-dashoffset="2.0"/>
<circle cx="584.6" cy="557.5" r="5.6" fill="none" stroke="#000" stroke-width="2.2"/>
<circle cx="629" cy="557.5" r="5.6" fill="none" stroke="#000" stroke-width="2.2"/>
<circle cx="645.5" cy="566.3" r="5.6" fill="none" stroke="#000" stroke-width="2.2"/>
<circle cx="606.1" cy="576.5" r="5.6" fill="none" stroke="#000" stroke-width="2.2"/>
<circle cx="590.5" cy="585.8" r="5.6" fill="none" stroke="#000" stroke-width="2.2"/>
<circle cx="611.9" cy="588.7" r="5.6" fill="none" stroke="#000" stroke-width="2.2"/>
<circle cx="622.6" cy="588.7" r="5.6" fill="none" stroke="#000" stroke-width="2.2"/>
<circle cx="623.1" cy="595.1" r="5.6" fill="none" stroke="#000" stroke-width="2.2"/>
<circle cx="633.4" cy="581.9" r="5.6" fill="none" stroke="#000" stroke-width="2.2"/>
<circle cx="638.2" cy="582.9" r="5.6" fill="none" stroke="#000" stroke-width="2.2"/>
<circle cx="644.1" cy="579" r="5.6" fill="none" stroke="#000" stroke-width="2.2"/>
<circle cx="642" cy="592.2" r="5.6" fill="none" stroke="#000" stroke-width="2.2"/>
<circle cx="587" cy="607.5" r="5.6" fill="none" stroke="#000" stroke-width="2.2"/>
<circle cx="595.3" cy="607.3" r="5.6" fill="none" stroke="#000" stroke-width="2.2"/>
<circle cx="602.7" cy="603.9" r="5.6" fill="none" stroke="#000" stroke-width="2.2"/>
<circle cx="612.9" cy="607.3" r="5.6" fill="none" stroke="#000" stroke-width="2.2"/>
<circle cx="623.6" cy="607.5" r="5.6" fill="none" stroke="#000" stroke-width="2.2"/>
<circle cx="637.3" cy="606.5" r="5.6" fill="none" stroke="#000" stroke-width="2.2"/>
<circle cx="647.3" cy="604.4" r="5.6" fill="none" stroke="#000" stroke-width="2.2"/>
<circle cx="589.5" cy="632" r="5.6" fill="none" stroke="#000" stroke-width="2.2"/>
<circle cx="598.8" cy="632" r="5.6" fill="none" stroke="#000" stroke-width="2.2"/>
<circle cx="593.4" cy="622.3" r="5.6" fill="none" stroke="#000" stroke-width="2.2"/>
<circle cx="610" cy="646.7" r="5.6" fill="none" stroke="#000" stroke-width="2.2"/>
<circle cx="617.8" cy="654.5" r="5.6" fill="none" stroke="#000" stroke-width="2.2"/>
<circle cx="624.1" cy="644.7" r="5.6" fill="none" stroke="#000" stroke-width="2.2"/>
<circle cx="630.4" cy="635" r="5.6" fill="none" stroke="#000" stroke-width="2.2"/>
<circle cx="612.9" cy="637" r="5.6" fill="none" stroke="#000" stroke-width="2.2"/>
<circle cx="618.7" cy="634" r="5.6" fill="none" stroke="#000" stroke-width="2.2"/>
<circle cx="622.6" cy="629.1" r="5.6" fill="none" stroke="#000" stroke-width="2.2"/>
<circle cx="615.8" cy="627.2" r="5.6" fill="none" stroke="#000" stroke-width="2.2"/>
<circle cx="630.4" cy="623.3" r="5.6" fill="none" stroke="#000" stroke-width="2.2"/>
<circle cx="640.1" cy="644.8" r="5.6" fill="none" stroke="#000" stroke-width="2.2"/>
<circle cx="646.4" cy="644.8" r="5.6" fill="none" stroke="#000" stroke-width="2.2"/>
<circle cx="644.5" cy="671.5" r="5.6" fill="none" stroke="#000" stroke-width="2.2"/>
<circle cx="587.5" cy="614.5" r="5.6" fill="none" stroke="#000" stroke-width="2.2"/>
<circle cx="598.3" cy="608.6" r="5.6" fill="none" stroke="#000" stroke-width="2.2"/>
<circle cx="609" cy="606.7" r="5.6" fill="none" stroke="#000" stroke-width="2.2"/>
<circle cx="616.8" cy="606.7" r="5.6" fill="none" stroke="#000" stroke-width="2.2"/>
<circle cx="605.1" cy="619.4" r="5.6" fill="none" stroke="#000" stroke-width="2.2"/>
<circle cx="611.9" cy="619.4" r="5.6" fill="none" stroke="#000" stroke-width="2.2"/>
<circle cx="620.7" cy="620.3" r="5.6" fill="none" stroke="#000" stroke-width="2.2"/>
<circle cx="644.1" cy="618.4" r="5.6" fill="none" stroke="#000" stroke-width="2.2"/>
<circle cx="638.2" cy="614.5" r="5.6" fill="none" stroke="#000" stroke-width="2.2"/>
<circle cx="611" cy="612.5" r="5.6" fill="none" stroke="#000" stroke-width="2.2"/>
<circle cx="618.7" cy="613.5" r="5.6" fill="none" stroke="#000" stroke-width="2.2"/>
<circle cx="599.2" cy="615.5" r="5.6" fill="none" stroke="#000" stroke-width="2.2"/>
<circle cx="664.4" cy="566.8" r="5.6" fill="none" stroke="#000" stroke-width="2.2"/>
<circle cx="684.8" cy="573.6" r="5.6" fill="none" stroke="#000" stroke-width="2.2"/>
<circle cx="689.2" cy="573.6" r="5.6" fill="none" stroke="#000" stroke-width="2.2"/>
<circle cx="693.1" cy="582.9" r="5.6" fill="none" stroke="#000" stroke-width="2.2"/>
<circle cx="708.5" cy="585.8" r="5.6" fill="none" stroke="#000" stroke-width="2.2"/>
<circle cx="720.1" cy="591.2" r="5.6" fill="none" stroke="#000" stroke-width="2.2"/>
<circle cx="674.1" cy="588.7" r="5.6" fill="none" stroke="#000" stroke-width="2.2"/>
<circle cx="695.1" cy="594.6" r="5.6" fill="none" stroke="#000" stroke-width="2.2"/>
<circle cx="650.7" cy="585.8" r="5.6" fill="none" stroke="#000" stroke-width="2.2"/>
<circle cx="642" cy="580.9" r="5.6" fill="none" stroke="#000" stroke-width="2.2"/>
<circle cx="669.2" cy="606.5" r="5.6" fill="none" stroke="#000" stroke-width="2.2"/>
<circle cx="684.3" cy="609" r="5.6" fill="none" stroke="#000" stroke-width="2.2"/>
<circle cx="693.6" cy="606.5" r="5.6" fill="none" stroke="#000" stroke-width="2.2"/>
<circle cx="707.1" cy="606.5" r="5.6" fill="none" stroke="#000" stroke-width="2.2"/>
<circle cx="715.9" cy="602.8" r="5.6" fill="none" stroke="#000" stroke-width="2.2"/>
<circle cx="658.5" cy="612.9" r="5.6" fill="none" stroke="#000" stroke-width="2.2"/>
<circle cx="657.1" cy="638" r="5.6" fill="none" stroke="#000" stroke-width="2.2"/>
<circle cx="664.9" cy="631.7" r="5.6" fill="none" stroke="#000" stroke-width="2.2"/>
<circle cx="674.1" cy="634.6" r="5.6" fill="none" stroke="#000" stroke-width="2.2"/>
<circle cx="670.2" cy="620.5" r="5.6" fill="none" stroke="#000" stroke-width="2.2"/>
<circle cx="677" cy="647.8" r="5.6" fill="none" stroke="#000" stroke-width="2.2"/>
<circle cx="663.4" cy="653.4" r="5.6" fill="none" stroke="#000" stroke-width="2.2"/>
<circle cx="666.3" cy="657.5" r="5.6" fill="none" stroke="#000" stroke-width="2.2"/>
<circle cx="674.4" cy="669.3" r="5.6" fill="none" stroke="#000" stroke-width="2.2"/>
<circle cx="687.8" cy="626.3" r="5.6" fill="none" stroke="#000" stroke-width="2.2"/>
<circle cx="687.3" cy="630.2" r="5.6" fill="none" stroke="#000" stroke-width="2.2"/>
<circle cx="693.1" cy="640.9" r="5.6" fill="none" stroke="#000" stroke-width="2.2"/>
<circle cx="646.8" cy="617.5" r="5.6" fill="none" stroke="#000" stroke-width="2.2"/>
<circle cx="700.4" cy="614.6" r="5.6" fill="none" stroke="#000" stroke-width="2.2"/>
<circle cx="715.7" cy="614.2" r="5.6" fill="none" stroke="#000" stroke-width="2.2"/>
<circle cx="734.4" cy="585.4" r="5.6" fill="none" stroke="#000" stroke-width="2.2"/>
<circle cx="731.4" cy="598.5" r="5.6" fill="none" stroke="#000" stroke-width="2.2"/>
<circle cx="727" cy="613.1" r="5.6" fill="none" stroke="#000" stroke-width="2.2"/>
<circle cx="735.1" cy="616.8" r="5.6" fill="none" stroke="#000" stroke-width="2.2"/>
<circle cx="704.4" cy="615.3" r="5.6" fill="none" stroke="#000" stroke-width="2.2"/>
<circle cx="837.5" cy="598.3" r="5.6" fill="none" stroke="#000" stroke-width="2.2"/>
<circle cx="845.2" cy="614" r="5.6" fill="none" stroke="#000" stroke-width="2.2"/>
<circle cx="854" cy="610" r="5.6" fill="none" stroke="#000" stroke-width="2.2"/>
<circle cx="872.6" cy="620.6" r="5.6" fill="none" stroke="#000" stroke-width="2.2"/>
<circle cx="661.4" cy="693.9" r="5.6" fill="none" stroke="#000" stroke-width="2.2"/>
<circle cx="666.2" cy="660.2" r="5.6" fill="none" stroke="#000" stroke-width="2.2"/>
<circle cx="677.5" cy="650.7" r="5.6" fill="none" stroke="#000" stroke-width="2.2"/>
<circle cx="736.2" cy="647.6" r="5.6" fill="none" stroke="#000" stroke-width="2.2"/>
<circle cx="619" cy="632" r="5.6" fill="none" stroke="#000" stroke-width="2.2"/>
<circle cx="622" cy="636" r="5.6" fill="none" stroke="#000" stroke-width="2.2"/>
<circle cx="617" cy="638" r="5.6" fill="none" stroke="#000" stroke-width="2.2"/>
<circle cx="613" cy="634" r="5.6" fill="none" stroke="#000" stroke-width="2.2"/>
<circle cx="620" cy="625" r="5.6" fill="none" stroke="#000" stroke-width="2.2"/>
<circle cx="626" cy="639" r="5.6" fill="none" stroke="#000" stroke-width="2.2"/>
<circle cx="596" cy="611" r="5.6" fill="none" stroke="#000" stroke-width="2.2"/>
<circle cx="604" cy="612" r="5.6" fill="none" stroke="#000" stroke-width="2.2"/>
<circle cx="608" cy="609" r="5.6" fill="none" stroke="#000" stroke-width="2.2"/>
<circle cx="616" cy="613" r="5.6" fill="none" stroke="#000" stroke-width="2.2"/>
<circle cx="628" cy="612" r="5.6" fill="none" stroke="#000" stroke-width="2.2"/>
<circle cx="634" cy="610" r="5.6" fill="none" stroke="#000" stroke-width="2.2"/>
<circle cx="600" cy="604" r="5.6" fill="none" stroke="#000" stroke-width="2.2"/>
<line x1="556.3" y1="614.2" x2="959.6" y2="614.2" stroke="#c8141c" stroke-width="3.0"/>
<line x1="555.3" y1="460.2" x2="960.8" y2="460.2" stroke="#262626" stroke-width="1.9"/>
<line x1="556.3" y1="459.3" x2="556.3" y2="769.4" stroke="#262626" stroke-width="2.1"/>
<line x1="959.6" y1="459.3" x2="959.6" y2="769.4" stroke="#262626" stroke-width="2.5"/>
<line x1="555.3" y1="768.2" x2="960.8" y2="768.2" stroke="#262626" stroke-width="2.5"/>
<line x1="628" y1="768.2" x2="628" y2="763.5" stroke="#262626" stroke-width="1.9"/>
<line x1="628" y1="460.2" x2="628" y2="464.9" stroke="#262626" stroke-width="1.9"/>
<text x="628" y="792.5" font-size="17.35" text-anchor="middle" fill="#262626">100</text>
<line x1="736.4" y1="768.2" x2="736.4" y2="763.5" stroke="#262626" stroke-width="1.9"/>
<line x1="736.4" y1="460.2" x2="736.4" y2="464.9" stroke="#262626" stroke-width="1.9"/>
<text x="736.4" y="792.5" font-size="17.35" text-anchor="middle" fill="#262626">200</text>
<line x1="844.8" y1="768.2" x2="844.8" y2="763.5" stroke="#262626" stroke-width="1.9"/>
<line x1="844.8" y1="460.2" x2="844.8" y2="464.9" stroke="#262626" stroke-width="1.9"/>
<text x="844.8" y="792.5" font-size="17.35" text-anchor="middle" fill="#262626">300</text>
<line x1="953.2" y1="768.2" x2="953.2" y2="763.5" stroke="#262626" stroke-width="1.9"/>
<line x1="953.2" y1="460.2" x2="953.2" y2="464.9" stroke="#262626" stroke-width="1.9"/>
<text x="953.2" y="792.5" font-size="17.35" text-anchor="middle" fill="#262626">400</text>
<line x1="556.3" y1="460.2" x2="561" y2="460.2" stroke="#262626" stroke-width="1.9"/>
<line x1="959.6" y1="460.2" x2="954.9" y2="460.2" stroke="#262626" stroke-width="1.9"/>
<text x="548.8" y="466.7" font-size="17.35" text-anchor="end" fill="#262626">50</text>
<line x1="556.3" y1="614.2" x2="561" y2="614.2" stroke="#262626" stroke-width="1.9"/>
<line x1="959.6" y1="614.2" x2="954.9" y2="614.2" stroke="#262626" stroke-width="1.9"/>
<text x="548.8" y="620.7" font-size="17.35" text-anchor="end" fill="#262626">0</text>
<line x1="556.3" y1="768.2" x2="561" y2="768.2" stroke="#262626" stroke-width="1.9"/>
<line x1="959.6" y1="768.2" x2="954.9" y2="768.2" stroke="#262626" stroke-width="1.9"/>
<text x="548.8" y="774.7" font-size="17.35" text-anchor="end" fill="#262626">-50</text>
<text x="754.7" y="817.1" font-size="17.35" text-anchor="middle" fill="#262626">0.5(observer 1 + observer 2) [cm/s]</text>
<text transform="translate(515.6 616.5) rotate(-90)" font-size="17.35" text-anchor="middle" fill="#262626">observer 1 - observer 2 [cm/s]</text>
<text x="955.5" y="538.6" font-size="17.35" text-anchor="end" fill="#000">+1.96 SD</text>
<text x="955.5" y="561.5" font-size="17.35" text-anchor="end" fill="#000">15.5</text>
<text x="957" y="609.8" font-size="17.35" text-anchor="end" fill="#000">mean diff.</text>
<text x="955.5" y="632.5" font-size="17.35" text-anchor="end" fill="#000">-0.0</text>
<text x="955.5" y="680.8" font-size="17.35" text-anchor="end" fill="#000">-1.96 SD</text>
<text x="955.5" y="703.9" font-size="17.35" text-anchor="end" fill="#000">-15.6</text>
</g>
<g class="hel">
<line x1="1059.5" y1="562.87" x2="1462.8" y2="562.87" stroke="#000" stroke-width="2.2" stroke-dasharray="2.9 2.1" stroke-dashoffset="2.45"/>
<line x1="1059.5" y1="666.56" x2="1462.8" y2="666.56" stroke="#000" stroke-width="2.2" stroke-dasharray="2.9 2.1" stroke-dashoffset="2.45"/>
<circle cx="1170.6" cy="560.1" r="5.7" fill="none" stroke="#000" stroke-width="2.5"/>
<circle cx="1141.6" cy="556.1" r="5.7" fill="none" stroke="#000" stroke-width="2.5"/>
<circle cx="1152" cy="572" r="5.7" fill="none" stroke="#000" stroke-width="2.5"/>
<circle cx="1145.6" cy="580.7" r="5.7" fill="none" stroke="#000" stroke-width="2.5"/>
<circle cx="1176.4" cy="594.2" r="5.7" fill="none" stroke="#000" stroke-width="2.5"/>
<circle cx="1169.8" cy="600.4" r="5.7" fill="none" stroke="#000" stroke-width="2.5"/>
<circle cx="1167.6" cy="607" r="5.7" fill="none" stroke="#000" stroke-width="2.5"/>
<circle cx="1156.8" cy="603.1" r="5.7" fill="none" stroke="#000" stroke-width="2.5"/>
<circle cx="1159.6" cy="607.8" r="5.7" fill="none" stroke="#000" stroke-width="2.5"/>
<circle cx="1148.9" cy="608.3" r="5.7" fill="none" stroke="#000" stroke-width="2.5"/>
<circle cx="1152.9" cy="611.7" r="5.7" fill="none" stroke="#000" stroke-width="2.5"/>
<circle cx="1137.7" cy="604.3" r="5.7" fill="none" stroke="#000" stroke-width="2.5"/>
<circle cx="1138.4" cy="611.4" r="5.7" fill="none" stroke="#000" stroke-width="2.5"/>
<circle cx="1145.9" cy="617.9" r="5.7" fill="none" stroke="#000" stroke-width="2.5"/>
<circle cx="1152.4" cy="622.2" r="5.7" fill="none" stroke="#000" stroke-width="2.5"/>
<circle cx="1120.8" cy="595.9" r="5.7" fill="none" stroke="#000" stroke-width="2.5"/>
<circle cx="1125.6" cy="603.9" r="5.7" fill="none" stroke="#000" stroke-width="2.5"/>
<circle cx="1113.6" cy="586.2" r="5.7" fill="none" stroke="#000" stroke-width="2.5"/>
<circle cx="1110.6" cy="589.2" r="5.7" fill="none" stroke="#000" stroke-width="2.5"/>
<circle cx="1106.5" cy="593.7" r="5.7" fill="none" stroke="#000" stroke-width="2.5"/>
<circle cx="1115.8" cy="603.6" r="5.7" fill="none" stroke="#000" stroke-width="2.5"/>
<circle cx="1112.1" cy="587.6" r="5.7" fill="none" stroke="#000" stroke-width="2.5"/>
<circle cx="1141.1" cy="615" r="5.7" fill="none" stroke="#000" stroke-width="2.5"/>
<circle cx="1110.6" cy="604.3" r="5.7" fill="none" stroke="#000" stroke-width="2.5"/>
<circle cx="1121" cy="610.4" r="5.7" fill="none" stroke="#000" stroke-width="2.5"/>
<circle cx="1125" cy="615.9" r="5.7" fill="none" stroke="#000" stroke-width="2.5"/>
<circle cx="1129.4" cy="617.2" r="5.7" fill="none" stroke="#000" stroke-width="2.5"/>
<circle cx="1124.1" cy="622.8" r="5.7" fill="none" stroke="#000" stroke-width="2.5"/>
<circle cx="1108.5" cy="614.4" r="5.7" fill="none" stroke="#000" stroke-width="2.5"/>
<circle cx="1110.1" cy="617.1" r="5.7" fill="none" stroke="#000" stroke-width="2.5"/>
<circle cx="1115.9" cy="626.7" r="5.7" fill="none" stroke="#000" stroke-width="2.5"/>
<circle cx="1111" cy="630.9" r="5.7" fill="none" stroke="#000" stroke-width="2.5"/>
<circle cx="1107.5" cy="628.8" r="5.7" fill="none" stroke="#000" stroke-width="2.5"/>
<circle cx="1101.5" cy="626.3" r="5.7" fill="none" stroke="#000" stroke-width="2.5"/>
<circle cx="1097.4" cy="621.9" r="5.7" fill="none" stroke="#000" stroke-width="2.5"/>
<circle cx="1101.6" cy="616.4" r="5.7" fill="none" stroke="#000" stroke-width="2.5"/>
<circle cx="1093.9" cy="613.8" r="5.7" fill="none" stroke="#000" stroke-width="2.5"/>
<circle cx="1087.7" cy="613.7" r="5.7" fill="none" stroke="#000" stroke-width="2.5"/>
<circle cx="1092.8" cy="608.2" r="5.7" fill="none" stroke="#000" stroke-width="2.5"/>
<circle cx="1091.7" cy="618.1" r="5.7" fill="none" stroke="#000" stroke-width="2.5"/>
<circle cx="1095.2" cy="609.5" r="5.7" fill="none" stroke="#000" stroke-width="2.5"/>
<circle cx="1119.3" cy="646.4" r="5.7" fill="none" stroke="#000" stroke-width="2.5"/>
<circle cx="1163.7" cy="618.4" r="5.7" fill="none" stroke="#000" stroke-width="2.5"/>
<circle cx="1160.3" cy="618.7" r="5.7" fill="none" stroke="#000" stroke-width="2.5"/>
<circle cx="1193.9" cy="615.3" r="5.7" fill="none" stroke="#000" stroke-width="2.5"/>
<circle cx="1186.6" cy="620.8" r="5.7" fill="none" stroke="#000" stroke-width="2.5"/>
<circle cx="1150.7" cy="645.8" r="5.7" fill="none" stroke="#000" stroke-width="2.5"/>
<circle cx="1142.5" cy="642.2" r="5.7" fill="none" stroke="#000" stroke-width="2.5"/>
<circle cx="1201.4" cy="513.1" r="5.7" fill="none" stroke="#000" stroke-width="2.5"/>
<circle cx="1191.5" cy="561.3" r="5.7" fill="none" stroke="#000" stroke-width="2.5"/>
<circle cx="1203.6" cy="574.3" r="5.7" fill="none" stroke="#000" stroke-width="2.5"/>
<circle cx="1205.9" cy="591.4" r="5.7" fill="none" stroke="#000" stroke-width="2.5"/>
<circle cx="1356.7" cy="587.1" r="5.7" fill="none" stroke="#000" stroke-width="2.5"/>
<circle cx="1373.2" cy="600.3" r="5.7" fill="none" stroke="#000" stroke-width="2.5"/>
<circle cx="1376.4" cy="616.1" r="5.7" fill="none" stroke="#000" stroke-width="2.5"/>
<circle cx="1346.8" cy="613.7" r="5.7" fill="none" stroke="#000" stroke-width="2.5"/>
<circle cx="1302.9" cy="601.5" r="5.7" fill="none" stroke="#000" stroke-width="2.5"/>
<circle cx="1294.9" cy="598.6" r="5.7" fill="none" stroke="#000" stroke-width="2.5"/>
<circle cx="1305.5" cy="615.1" r="5.7" fill="none" stroke="#000" stroke-width="2.5"/>
<circle cx="1302.4" cy="614.6" r="5.7" fill="none" stroke="#000" stroke-width="2.5"/>
<circle cx="1274.8" cy="597.4" r="5.7" fill="none" stroke="#000" stroke-width="2.5"/>
<circle cx="1270.6" cy="612.1" r="5.7" fill="none" stroke="#000" stroke-width="2.5"/>
<circle cx="1240.5" cy="586.6" r="5.7" fill="none" stroke="#000" stroke-width="2.5"/>
<circle cx="1260.8" cy="610.3" r="5.7" fill="none" stroke="#000" stroke-width="2.5"/>
<circle cx="1277.9" cy="631.9" r="5.7" fill="none" stroke="#000" stroke-width="2.5"/>
<circle cx="1257.5" cy="640.6" r="5.7" fill="none" stroke="#000" stroke-width="2.5"/>
<circle cx="1219.7" cy="607.4" r="5.7" fill="none" stroke="#000" stroke-width="2.5"/>
<circle cx="1226.1" cy="610.8" r="5.7" fill="none" stroke="#000" stroke-width="2.5"/>
<circle cx="1223.9" cy="637.8" r="5.7" fill="none" stroke="#000" stroke-width="2.5"/>
<circle cx="1281.1" cy="699.1" r="5.7" fill="none" stroke="#000" stroke-width="2.5"/>
<circle cx="1224.9" cy="695.3" r="5.7" fill="none" stroke="#000" stroke-width="2.5"/>
<circle cx="1188.9" cy="681.1" r="5.7" fill="none" stroke="#000" stroke-width="2.5"/>
<circle cx="1170.4" cy="678.3" r="5.7" fill="none" stroke="#000" stroke-width="2.5"/>
<circle cx="1177.8" cy="693" r="5.7" fill="none" stroke="#000" stroke-width="2.5"/>
<circle cx="1147.7" cy="675.6" r="5.7" fill="none" stroke="#000" stroke-width="2.5"/>
<circle cx="1088.6" cy="612" r="5.7" fill="none" stroke="#000" stroke-width="2.5"/>
<circle cx="1088.6" cy="616" r="5.7" fill="none" stroke="#000" stroke-width="2.5"/>
<circle cx="1090" cy="610" r="5.7" fill="none" stroke="#000" stroke-width="2.5"/>
<circle cx="1095" cy="616" r="5.7" fill="none" stroke="#000" stroke-width="2.5"/>
<circle cx="1097" cy="612" r="5.7" fill="none" stroke="#000" stroke-width="2.5"/>
<circle cx="1089.5" cy="619" r="5.7" fill="none" stroke="#000" stroke-width="2.5"/>
<circle cx="1092" cy="621" r="5.7" fill="none" stroke="#000" stroke-width="2.5"/>
<line x1="1059.5" y1="614.71" x2="1462.8" y2="614.71" stroke="#d01c1c" stroke-width="3.0"/>
<line x1="1058.5" y1="460.2" x2="1464" y2="460.2" stroke="#262626" stroke-width="1.9"/>
<line x1="1059.5" y1="459.3" x2="1059.5" y2="769.4" stroke="#262626" stroke-width="2.1"/>
<line x1="1462.8" y1="459.3" x2="1462.8" y2="769.4" stroke="#262626" stroke-width="2.5"/>
<line x1="1058.5" y1="768.2" x2="1464" y2="768.2" stroke="#262626" stroke-width="2.5"/>
<line x1="1088.5" y1="768.2" x2="1088.5" y2="763.5" stroke="#262626" stroke-width="1.9"/>
<line x1="1088.5" y1="460.2" x2="1088.5" y2="464.9" stroke="#262626" stroke-width="1.9"/>
<text x="1088.5" y="792.5" font-size="17.35" text-anchor="middle" fill="#262626">0</text>
<line x1="1184.37" y1="768.2" x2="1184.37" y2="763.5" stroke="#262626" stroke-width="1.9"/>
<line x1="1184.37" y1="460.2" x2="1184.37" y2="464.9" stroke="#262626" stroke-width="1.9"/>
<text x="1184.37" y="792.5" font-size="17.35" text-anchor="middle" fill="#262626">10</text>
<line x1="1280.24" y1="768.2" x2="1280.24" y2="763.5" stroke="#262626" stroke-width="1.9"/>
<line x1="1280.24" y1="460.2" x2="1280.24" y2="464.9" stroke="#262626" stroke-width="1.9"/>
<text x="1280.24" y="792.5" font-size="17.35" text-anchor="middle" fill="#262626">20</text>
<line x1="1376.11" y1="768.2" x2="1376.11" y2="763.5" stroke="#262626" stroke-width="1.9"/>
<line x1="1376.11" y1="460.2" x2="1376.11" y2="464.9" stroke="#262626" stroke-width="1.9"/>
<text x="1376.11" y="792.5" font-size="17.35" text-anchor="middle" fill="#262626">30</text>
<line x1="1059.5" y1="460.2" x2="1064.2" y2="460.2" stroke="#262626" stroke-width="1.9"/>
<line x1="1462.8" y1="460.2" x2="1458.1" y2="460.2" stroke="#262626" stroke-width="1.9"/>
<text x="1052" y="466.7" font-size="17.35" text-anchor="end" fill="#262626">30</text>
<line x1="1059.5" y1="511.53" x2="1064.2" y2="511.53" stroke="#262626" stroke-width="1.9"/>
<line x1="1462.8" y1="511.53" x2="1458.1" y2="511.53" stroke="#262626" stroke-width="1.9"/>
<text x="1052" y="518.03" font-size="17.35" text-anchor="end" fill="#262626">20</text>
<line x1="1059.5" y1="562.87" x2="1064.2" y2="562.87" stroke="#262626" stroke-width="1.9"/>
<line x1="1462.8" y1="562.87" x2="1458.1" y2="562.87" stroke="#262626" stroke-width="1.9"/>
<text x="1052" y="569.37" font-size="17.35" text-anchor="end" fill="#262626">10</text>
<line x1="1059.5" y1="614.2" x2="1064.2" y2="614.2" stroke="#262626" stroke-width="1.9"/>
<line x1="1462.8" y1="614.2" x2="1458.1" y2="614.2" stroke="#262626" stroke-width="1.9"/>
<text x="1052" y="620.7" font-size="17.35" text-anchor="end" fill="#262626">0</text>
<line x1="1059.5" y1="665.53" x2="1064.2" y2="665.53" stroke="#262626" stroke-width="1.9"/>
<line x1="1462.8" y1="665.53" x2="1458.1" y2="665.53" stroke="#262626" stroke-width="1.9"/>
<text x="1052" y="672.03" font-size="17.35" text-anchor="end" fill="#262626">-10</text>
<line x1="1059.5" y1="716.87" x2="1064.2" y2="716.87" stroke="#262626" stroke-width="1.9"/>
<line x1="1462.8" y1="716.87" x2="1458.1" y2="716.87" stroke="#262626" stroke-width="1.9"/>
<text x="1052" y="723.37" font-size="17.35" text-anchor="end" fill="#262626">-20</text>
<line x1="1059.5" y1="768.2" x2="1064.2" y2="768.2" stroke="#262626" stroke-width="1.9"/>
<line x1="1462.8" y1="768.2" x2="1458.1" y2="768.2" stroke="#262626" stroke-width="1.9"/>
<text x="1052" y="774.7" font-size="17.35" text-anchor="end" fill="#262626">-30</text>
<text x="1258.2" y="817.1" font-size="17.35" text-anchor="middle" fill="#262626">0.5(observer 1 + observer 2) [%]</text>
<text transform="translate(1018.7 616.75) rotate(-90)" font-size="17.35" text-anchor="middle" fill="#262626">observer 1 - observer 2 [%]</text>
<text x="1460.5" y="534.8" font-size="17.35" text-anchor="end" fill="#000">+1.96 SD</text>
<text x="1460.5" y="557.6" font-size="17.35" text-anchor="end" fill="#000">10.0</text>
<text x="1462" y="609.3" font-size="17.35" text-anchor="end" fill="#000">mean diff.</text>
<text x="1460.5" y="632.3" font-size="17.35" text-anchor="end" fill="#000">-0.1</text>
<text x="1460.5" y="684.8" font-size="17.35" text-anchor="end" fill="#000">-1.96 SD</text>
<text x="1460.5" y="707.7" font-size="17.35" text-anchor="end" fill="#000">-10.2</text>
</g>
</svg></body></html>
